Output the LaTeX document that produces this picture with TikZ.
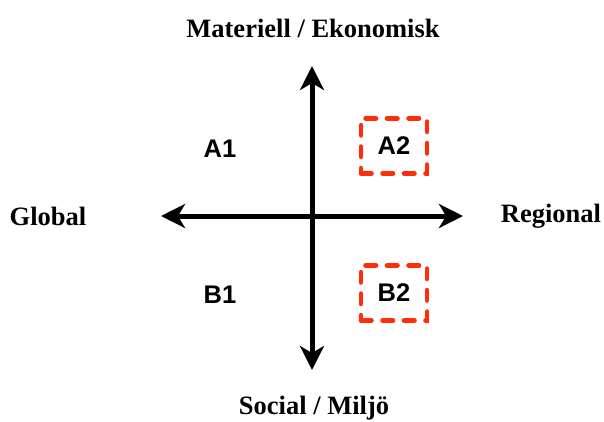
\documentclass[tikz,border=0pt]{standalone}
\usepackage{fontspec}
\setmainfont{Liberation Serif}
\newfontfamily\quadfont{Liberation Sans}
\usetikzlibrary{arrows.meta}
\definecolor{boxred}{RGB}{255, 45, 10}

\begin{document}
\begin{tikzpicture}[x=1pt, y=-1pt,
    axis/.style={line width=5pt, -{Stealth[length=24pt, width=24pt, inset=7pt]}},
    pole/.style={font=\fontsize{26.5}{30}\selectfont\bfseries},
    quad/.style={font=\fontsize{25.5}{28}\selectfont\quadfont\bfseries},
    pick/.style={draw=boxred, line width=4.5pt, line cap=round,
      dash pattern=on 10.5pt off 11pt, minimum width=66pt, minimum height=55pt}]
      \useasboundingbox (0,0) rectangle (604,421);
      % Axis ends
      \coordinate (c) at (312,216);
      \coordinate (l) at (161,216);
      \coordinate (r) at (463,216);
      \coordinate (t) at (312,66);
      \coordinate (b) at (312,370);
      \draw[axis] (c) -- (l);
      \draw[axis] (c) -- (r);
      \draw[axis] (c) -- (t);
      \draw[axis] (c) -- (b);
      % Pole labels
      \node[pole] (mat) at (313,28) {Materiell / Ekonomisk};
      \node[pole] (soc) at (314,408) {Social / Miljö};
      \node[pole] (glo) at (48,216) {Global};
      \node[pole] (reg) at (551,216) {Regional};
      % Quadrants
      \foreach \x/\y/\name in {220/149/A1, 220/295/B1}{
        \node[quad] (\name) at (\x,\y) {\name};
      }
      \foreach \x/\y/\name in {394/146/A2, 394/293/B2}{
        \node[quad, pick] (\name) at (\x,\y) {\name};
      }
    \end{tikzpicture}
\end{document}
